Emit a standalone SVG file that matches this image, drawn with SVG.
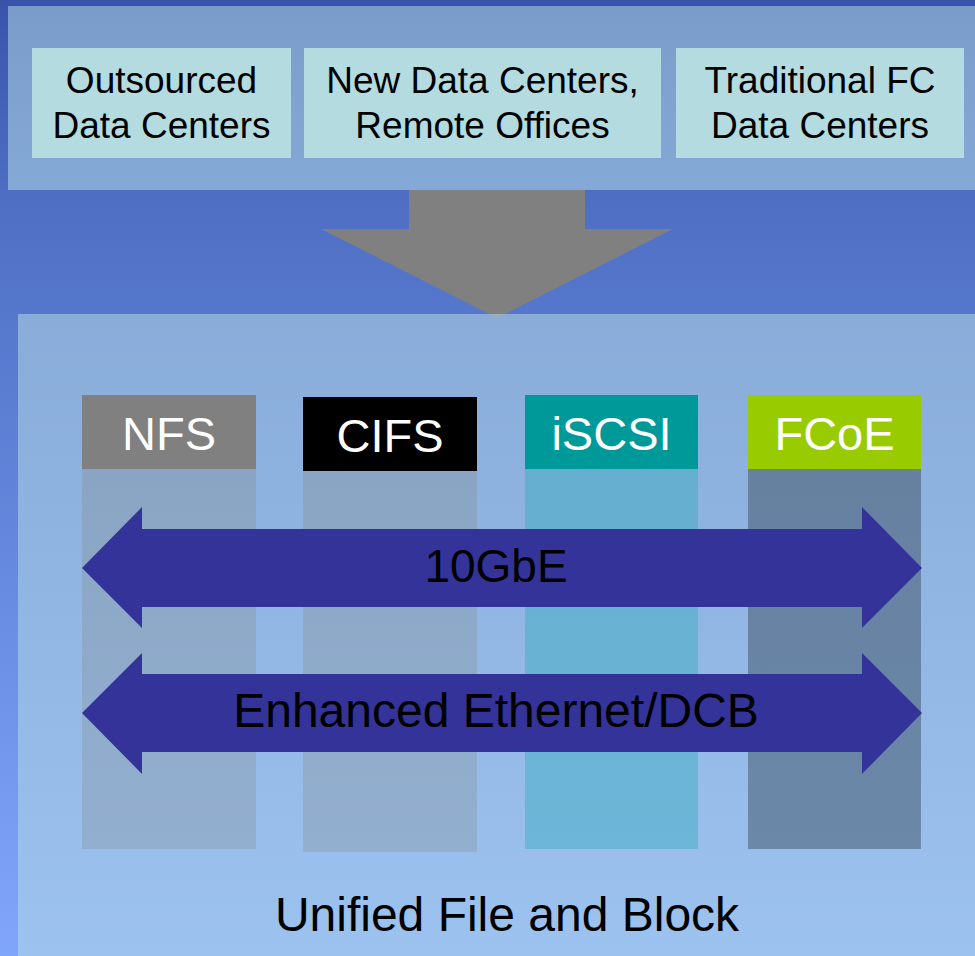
<svg xmlns="http://www.w3.org/2000/svg" width="975" height="956" viewBox="0 0 975 956">
<defs>
<linearGradient id="bg" x1="0" y1="0" x2="0" y2="1">
<stop offset="0" stop-color="#3953ab"/>
<stop offset="0.2" stop-color="#4d6ec3"/>
<stop offset="1" stop-color="#80a6fc"/>
</linearGradient>
<linearGradient id="topPanel" x1="0" y1="0" x2="0" y2="1">
<stop offset="0" stop-color="#7a9cca"/>
<stop offset="1" stop-color="#85a9d6"/>
</linearGradient>
<linearGradient id="botPanel" x1="0" y1="0" x2="0" y2="1">
<stop offset="0" stop-color="#89acd9"/>
<stop offset="1" stop-color="#9cc2ef"/>
</linearGradient>
<linearGradient id="grayBody" x1="0" y1="0" x2="0" y2="1">
<stop offset="0" stop-color="#8aa5c4"/>
<stop offset="1" stop-color="#93afcf"/>
</linearGradient>
<linearGradient id="tealBody" x1="0" y1="0" x2="0" y2="1">
<stop offset="0" stop-color="#66aecf"/>
<stop offset="1" stop-color="#6db6d9"/>
</linearGradient>
<linearGradient id="slateBody" x1="0" y1="0" x2="0" y2="1">
<stop offset="0" stop-color="#6680a0"/>
<stop offset="1" stop-color="#6b88a9"/>
</linearGradient>
</defs>
<style>
.box{fill:#b3dbe0}
.boxText{font-family:"Liberation Sans",Arial,sans-serif;font-size:37px;fill:#000;text-anchor:middle}
.hdrText{font-family:"Liberation Sans",Arial,sans-serif;font-size:47px;fill:#fff;text-anchor:middle}
.arrowText{font-family:"Liberation Sans",Arial,sans-serif;font-size:48px;fill:#000;text-anchor:middle}
.dbl{fill:#333399}
</style>
<rect x="0" y="0" width="975" height="956" fill="url(#bg)"/>
<rect x="8" y="6" width="967" height="184" fill="url(#topPanel)"/>
<g id="connectors">
<polygon points="409,190 585,190 585,229 673,229 497,318 321,229 409,229" fill="#808080"/>
</g>
<rect x="18" y="314" width="957" height="642" fill="url(#botPanel)"/>
<polygon points="489,314 505,314 497,318" fill="#9ab1b8"/>
<g id="box-outsourced">
<rect class="box" x="32" y="48" width="259" height="110"/>
<text class="boxText" x="161.5" y="93">Outsourced</text>
<text class="boxText" x="161.5" y="138">Data Centers</text>
</g>
<g id="box-new">
<rect class="box" x="304" y="48" width="357" height="110"/>
<text class="boxText" x="482.5" y="93">New Data Centers,</text>
<text class="boxText" x="482.5" y="138">Remote Offices</text>
</g>
<g id="box-traditional">
<rect class="box" x="676" y="48" width="288" height="110"/>
<text class="boxText" x="820" y="93">Traditional FC</text>
<text class="boxText" x="820" y="138">Data Centers</text>
</g>
<g id="col-nfs">
<rect x="82" y="469" width="174" height="380" fill="url(#grayBody)"/>
<rect x="82" y="395" width="174" height="74" fill="#808080"/>
<text class="hdrText" x="169" y="450">NFS</text>
</g>
<g id="col-cifs">
<rect x="303" y="471" width="174" height="381" fill="url(#grayBody)"/>
<rect x="303" y="397" width="174" height="74" fill="#000000"/>
<text class="hdrText" x="390" y="452">CIFS</text>
</g>
<g id="col-iscsi">
<rect x="525" y="469" width="173" height="380" fill="url(#tealBody)"/>
<rect x="525" y="395" width="173" height="74" fill="#009999"/>
<text class="hdrText" x="611.5" y="450">iSCSI</text>
</g>
<g id="col-fcoe">
<rect x="748" y="469" width="173" height="380" fill="url(#slateBody)"/>
<rect x="748" y="395" width="173" height="74" fill="#99cc00"/>
<text class="hdrText" x="834.5" y="450">FCoE</text>
</g>
<g id="arrow-10gbe">
<polygon class="dbl" points="82,568 142,507 142,529 862,529 862,507 922,568 862,628 862,607 142,607 142,628"/>
<text class="arrowText" x="496" y="582" style="font-size:46px">10GbE</text>
</g>
<g id="arrow-dcb">
<polygon class="dbl" points="82,713 142,653 142,674 862,674 862,653 922,713 862,774 862,752 142,752 142,774"/>
<text class="arrowText" x="496" y="727">Enhanced Ethernet/DCB</text>
</g>
<g id="label-unified">
<text class="arrowText" x="507" y="931">Unified File and Block</text>
</g>
</svg>
